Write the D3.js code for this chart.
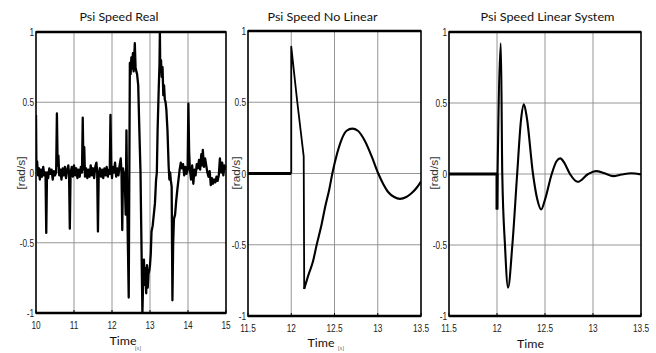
<!DOCTYPE html>
<html>
<head>
<meta charset="utf-8">
<script src="https://cdn.jsdelivr.net/npm/d3@7"></script>
<style>
  html, body { margin: 0; padding: 0; background: #fff; }
  svg { display: block; }
  .tick-lbl { font-family: "Liberation Sans", Arial, sans-serif; font-size: 11.5px; fill: #222; }
  .title { font-family: Lato, "Open Sans", sans-serif; font-size: 11.5px; fill: #111; }
  .xlab { font-family: Lato, "Open Sans", sans-serif; font-size: 11px; fill: #111; }
  .ylab { font-family: "Liberation Sans", "DejaVu Sans Condensed", sans-serif; font-size: 11px; fill: #333; }
</style>
</head>
<body>
<svg id="chart" width="656" height="353"></svg>
<script>
// ---------------- DATA ----------------
const titles = ["Psi Speed Real", "Psi Speed No Linear", "Psi Speed Linear System"];
const xLabel = "Time";
const xUnit = "[s]";
const yLabel = "[rad/s]";

const yTicks = [-1, -0.5, 0, 0.5, 1];
const realXTicks = [10, 11, 12, 13, 14, 15];
const simXTicks = [11.5, 12, 12.5, 13, 13.5];

// Panel 1: measured signal
const realTime = [10.0,10.01,10.03,10.05,10.08,10.1,10.13,10.16,10.19,10.22,10.25,10.27,10.29,10.32,10.35,10.38,10.41,10.44,10.47,10.5,10.53,10.55,10.57,10.59,10.61,10.64,10.67,10.7,10.73,10.76,10.79,10.82,10.85,10.87,10.89,10.91,10.94,10.97,11.0,11.03,11.06,11.09,11.12,11.15,11.18,11.21,11.23,11.25,11.27,11.29,11.32,11.35,11.38,11.41,11.44,11.47,11.5,11.53,11.56,11.59,11.61,11.63,11.65,11.68,11.71,11.74,11.77,11.8,11.83,11.86,11.89,11.92,11.94,11.96,11.98,12.0,12.02,12.05,12.08,12.11,12.14,12.17,12.2,12.23,12.25,12.27,12.29,12.31,12.33,12.36,12.38,12.4,12.44,12.47,12.49,12.51,12.53,12.55,12.57,12.6,12.62,12.64,12.66,12.69,12.72,12.75,12.77,12.8,12.82,12.84,12.86,12.88,12.9,12.92,12.94,12.96,12.98,13.0,13.02,13.04,13.07,13.1,13.13,13.16,13.18,13.2,13.23,13.25,13.26,13.27,13.29,13.31,13.33,13.35,13.37,13.39,13.41,13.43,13.46,13.49,13.51,13.53,13.55,13.57,13.59,13.61,13.63,13.66,13.69,13.72,13.75,13.78,13.81,13.84,13.87,13.9,13.93,13.96,13.99,14.01,14.03,14.05,14.08,14.11,14.14,14.17,14.2,14.23,14.26,14.29,14.32,14.35,14.37,14.39,14.42,14.45,14.48,14.51,14.54,14.57,14.6,14.63,14.66,14.69,14.72,14.75,14.78,14.81,14.84,14.87,14.9,14.93,14.96,15.0];
const realSpeed = [0.41,0.05,0.08,-0.02,0.03,-0.05,0.02,-0.03,0.04,-0.02,0.0,-0.43,0.0,-0.04,0.03,-0.01,0.02,-0.05,0.01,-0.02,0.0,0.42,0.05,0.12,-0.02,0.02,-0.05,0.03,-0.02,0.04,-0.04,0.02,0.05,-0.01,-0.40,0.0,0.04,-0.03,0.05,-0.02,0.03,-0.04,0.02,-0.03,0.04,0.0,0.39,0.02,0.18,-0.03,0.03,-0.04,0.02,-0.03,0.05,-0.02,0.03,-0.04,0.04,0.07,0.0,-0.42,-0.02,0.03,-0.03,0.02,-0.04,0.03,-0.02,0.04,-0.03,0.02,-0.01,0.41,0.05,-0.04,0.04,0.0,0.07,-0.03,0.03,-0.02,0.05,0.1,0.0,-0.41,0.03,-0.02,0.0,-0.3,0.3,-0.2,-0.89,0.78,0.7,0.82,0.74,0.85,0.72,0.92,0.75,0.72,0.7,0.62,0.3,0.0,-0.4,-1.0,-0.78,-0.62,-0.8,-0.68,-0.86,-0.66,-0.82,-0.72,-0.7,-0.66,-0.58,-0.42,-0.38,-0.3,-0.22,-0.05,0.0,0.3,0.6,0.77,1.0,0.72,0.8,0.68,0.75,0.55,0.62,0.52,0.5,0.45,0.3,0.05,-0.05,0.0,-0.06,-0.1,-0.91,-0.5,-0.33,-0.3,-0.2,-0.12,-0.05,0.02,0.07,0.03,0.06,-0.02,0.04,-0.01,0.02,0.49,0.15,0.02,-0.05,0.05,-0.08,0.02,-0.02,0.06,0.03,0.09,0.02,0.13,0.05,0.16,0.04,0.1,0.05,0.0,-0.03,0.01,-0.09,-0.04,-0.08,-0.05,-0.07,-0.03,-0.06,-0.02,0.1,0.0,0.07,-0.02,0.05,0.02];

// Panel 2: non-linear model
const nlBaseTime = [11.5, 12.0];
const nlBaseSpeed = [0, 0];
const nlSpikeTime = [12.0, 12.0, 12.07, 12.144, 12.15];
const nlSpikeSpeed = [0, 0.89, 0.5, 0.12, -0.81];
const nlWaveTime = [12.15,12.2,12.25,12.294,12.35,12.39,12.44,12.475,12.53,12.583,12.64,12.706,12.77,12.85,12.93,13.006,13.06,13.12,13.19,13.257,13.33,13.39,13.45,13.5];
const nlWaveSpeed = [-0.81,-0.71,-0.62,-0.5,-0.36,-0.24,-0.11,0.0,0.14,0.24,0.3,0.315,0.3,0.23,0.12,0.0,-0.07,-0.13,-0.165,-0.178,-0.165,-0.139,-0.1,-0.056];

// Panel 3: linear system
const linBaseTime = [11.5, 12.0, 12.0];
const linBaseSpeed = [0, 0, -0.25];
const linWaveTime = [12.0,12.04,12.055,12.083,12.115,12.16,12.21,12.25,12.28,12.31,12.375,12.42,12.46,12.5,12.57,12.62,12.66,12.7,12.76,12.84,12.95,13.03,13.12,13.21,13.3,13.4,13.5];
const linWaveSpeed = [-0.25,0.92,0.0,-0.5,-0.80,-0.5,0.0,0.38,0.49,0.4,0.0,-0.18,-0.25,-0.18,0.0,0.09,0.11,0.08,0.0,-0.055,0.0,0.02,0.005,-0.015,-0.003,0.005,-0.003];

// ---------------- DRAW ----------------
const svg = d3.select("#chart");
const zip = (t, v) => t.map((d, i) => [d, v[i]]);
const NARROW = 0.72;

const panels = [
  { left: 36, right: 226, top: 32, bottom: 313, domain: [10, 15], xt: realXTicks,
    titleX: 119, titleW: 79, timeX: 123, timeBase: 345, unitX: 138, ylabX: 21,
    series: [ { data: zip(realTime, realSpeed), w: 2.3, curve: d3.curveLinear } ] },
  { left: 248, right: 421, top: 31, bottom: 316, domain: [11.5, 13.5], xt: simXTicks,
    titleX: 322.5, titleW: 110, timeX: 321, timeBase: 347, unitX: 341, ylabX: 236,
    series: [
      { data: zip(nlBaseTime, nlBaseSpeed), w: 3, curve: d3.curveLinear },
      { data: zip(nlSpikeTime, nlSpikeSpeed), w: 1.8, curve: d3.curveLinear },
      { data: zip(nlWaveTime, nlWaveSpeed), w: 2.1, curve: d3.curveMonotoneX } ] },
  { left: 449, right: 641, top: 32, bottom: 316, domain: [11.5, 13.5], xt: simXTicks,
    titleX: 547.5, titleW: 134, timeX: 530.5, timeBase: 348, unitX: null, ylabX: 434,
    series: [
      { data: zip(linBaseTime, linBaseSpeed), w: 3, curve: d3.curveLinear },
      { data: zip(linWaveTime, linWaveSpeed), w: 2.1, curve: d3.curveMonotoneX } ] }
];

panels.forEach((p, pi) => {
  const x = d3.scaleLinear().domain(p.domain).range([p.left, p.right]);
  const y = d3.scaleLinear().domain([-1, 1]).range([p.bottom, p.top]);
  const g = svg.append("g");

  // grid
  g.selectAll(".gx").data(p.xt.slice(1, -1)).join("line")
    .attr("x1", d => x(d)).attr("x2", d => x(d))
    .attr("y1", p.top).attr("y2", p.bottom)
    .attr("stroke", "#8a8a8a").attr("stroke-width", 0.9);
  g.selectAll(".gy").data(yTicks.slice(1, -1)).join("line")
    .attr("x1", p.left).attr("x2", p.right)
    .attr("y1", d => y(d)).attr("y2", d => y(d))
    .attr("stroke", "#8a8a8a").attr("stroke-width", 0.9);

  // data
  const clipId = "clip" + pi;
  svg.append("clipPath").attr("id", clipId).append("rect")
    .attr("x", p.left).attr("y", p.top - 1).attr("width", p.right - p.left).attr("height", p.bottom - p.top + 2);
  const line = d3.line().x(d => x(d[0])).y(d => y(d[1]));
  p.series.forEach(s => {
    g.append("path").datum(s.data)
      .attr("d", line.curve(s.curve))
      .attr("fill", "none").attr("stroke", "#000")
      .attr("stroke-width", s.w).attr("stroke-linejoin", "round")
      .attr("clip-path", `url(#${clipId})`);
  });

  // frame
  g.append("rect").attr("x", p.left).attr("y", p.top)
    .attr("width", p.right - p.left).attr("height", p.bottom - p.top)
    .attr("fill", "none").attr("stroke", "#000").attr("stroke-width", 1.6);
  g.append("line").attr("x1", p.left).attr("x2", p.right).attr("y1", p.top).attr("y2", p.top)
    .attr("stroke", "#000").attr("stroke-width", 2.4);
  g.append("line").attr("x1", p.left).attr("x2", p.right).attr("y1", p.bottom).attr("y2", p.bottom)
    .attr("stroke", "#000").attr("stroke-width", 2.4);

  // small ticks on edges
  g.selectAll(".tk").data(p.xt).join("line")
    .attr("x1", d => x(d)).attr("x2", d => x(d))
    .attr("y1", p.bottom).attr("y2", p.bottom - 3)
    .attr("stroke", "#000").attr("stroke-width", 1);

  // tick labels (narrow, like the original)
  g.selectAll(".yl").data(yTicks).join("text").attr("class", "tick-lbl")
    .attr("transform", d => `translate(${p.left - 2},${y(d)}) scale(${NARROW},1)`)
    .attr("dy", "0.35em")
    .attr("text-anchor", "end").text(d => String(d));
  g.selectAll(".xl").data(p.xt).join("text").attr("class", "tick-lbl")
    .attr("transform", d => `translate(${x(d)},${p.bottom + 16}) scale(${NARROW},1)`)
    .attr("text-anchor", "middle").text(d => String(d));

  // title
  g.append("text").attr("class", "title")
    .attr("x", p.titleX).attr("y", 21).attr("text-anchor", "middle")
    .attr("textLength", p.titleW).attr("lengthAdjust", "spacingAndGlyphs")
    .text(titles[pi]);

  // x label
  g.append("text").attr("class", "xlab")
    .attr("x", p.timeX).attr("y", p.timeBase).attr("text-anchor", "middle")
    .attr("textLength", 27).attr("lengthAdjust", "spacingAndGlyphs")
    .text(xLabel);
  if (p.unitX !== null) {
    g.append("text").attr("x", p.unitX).attr("y", 350)
      .attr("text-anchor", "middle")
      .style("font-family", "DejaVu Sans Condensed, sans-serif").style("font-size", "5px").style("fill", "#444")
      .text(xUnit);
  }

  // y label
  g.append("text").attr("class", "ylab")
    .attr("transform", `translate(${p.ylabX},173) rotate(-90)`)
    .attr("dy", "0.35em").attr("text-anchor", "middle")
    .attr("textLength", 33).attr("lengthAdjust", "spacingAndGlyphs")
    .text(yLabel);
});
</script>
</body>
</html>
